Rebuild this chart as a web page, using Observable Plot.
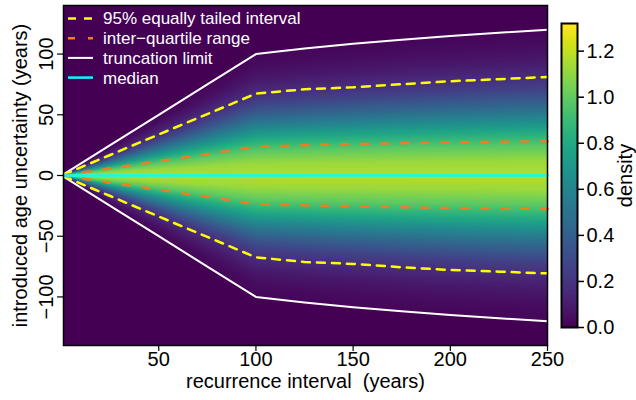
<!DOCTYPE html>
<html>
<head>
<meta charset="utf-8">
<script src="https://cdn.jsdelivr.net/npm/d3@7"></script>
<script src="https://cdn.jsdelivr.net/npm/@observablehq/plot@0.6"></script>
<style>
  html, body { margin: 0; padding: 0; background: #fff; }
  #chart { display: flex; width: 636px; height: 400px; }
  svg { font-family: "Liberation Sans", Arial, Helvetica, sans-serif; overflow: visible; }
  svg text { white-space: pre; }
</style>
</head>
<body>
<div id="chart"></div>
<script>
// Recurrence interval (years) at which the summary curves are given
const recurrence = [1, 25, 50, 75, 100, 125, 150, 175, 200, 225, 250];
// Truncation limit of the introduced age uncertainty (± years)
const truncation = [1, 25, 50, 75, 100, 104.5, 108.5, 111.8, 114.9, 117.6, 120.1];
// 95% equally tailed interval
const upper95 = [0.7, 16.9, 33.8, 50.6, 67.4, 71.0, 72.6, 75.2, 77.6, 79.3, 81.2];
const lower95 = [-0.7, -16.9, -33.8, -50.6, -67.4, -71.2, -72.8, -75.6, -77.8, -79.2, -80.6];
// Inter-quartile range
const upperIQR = [0.2, 5.9, 11.8, 17.6, 23.5, 25.0, 25.8, 26.6, 27.2, 27.8, 28.3];
const lowerIQR = [-0.2, -5.9, -11.8, -17.6, -23.5, -24.6, -25.4, -26.2, -26.8, -27.2, -27.6];
// Median
const median = [0, 0, 0, 0, 0, 0, 0, 0, 0, 0, 0];

// Density profile across the column, as a share of the truncation limit
const profileShare = [0, 0.1, 0.2, 0.3, 0.4, 0.5, 0.6, 0.7, 0.8, 0.9, 1.0];
const profileDensity = [1.17, 1.12, 0.99, 0.80, 0.59, 0.40, 0.25, 0.15, 0.08, 0.04, 0.02];

// Tick labels
const xTicks = [50, 100, 150, 200, 250];
const yTicks = [-100, -50, 0, 50, 100];
const densityTicks = [0, 0.2, 0.4, 0.6, 0.8, 1.0, 1.2];

const rows = recurrence.map((x, i) => ({
  x,
  truncHi: truncation[i], truncLo: -truncation[i],
  hi95: upper95[i], lo95: lower95[i],
  hiIQR: upperIQR[i], loIQR: lowerIQR[i],
  med: median[i]
}));

const limitAt = d3.scaleLinear(recurrence, truncation).clamp(true);
const densityAt = d3.scaleLinear(profileShare, profileDensity).clamp(true);
const densityField = (x, y) => {
  const u = Math.abs(y) / limitAt(x);
  return u > 1 ? 0 : densityAt(u);
};

const colorScale = { type: "linear", scheme: "viridis", domain: [0, 1.32] };
const fmtMinus = (d) => String(d).replace("-", "\u2212");

const YELLOW = "#ffff00", ORANGE = "#f47b20", CYAN = "#00ffff", WHITE = "#ffffff";

const main = Plot.plot({
  width: 560,
  height: 400,
  marginLeft: 63,
  marginRight: 13,
  marginTop: 5,
  marginBottom: 55,
  x: { domain: [1, 250], axis: null },
  y: { domain: [-140, 140], axis: null },
  color: colorScale,
  marks: [
    Plot.raster({ x1: 1, x2: 250, y1: -140, y2: 140, fill: densityField, pixelSize: 1 }),
    Plot.line(rows, { x: "x", y: "truncHi", stroke: WHITE, strokeWidth: 2 }),
    Plot.line(rows, { x: "x", y: "truncLo", stroke: WHITE, strokeWidth: 2 }),
    Plot.line(rows, { x: "x", y: "hi95", stroke: YELLOW, strokeWidth: 2.5, strokeDasharray: "8,7" }),
    Plot.line(rows, { x: "x", y: "lo95", stroke: YELLOW, strokeWidth: 2.5, strokeDasharray: "8,7" }),
    Plot.line(rows, { x: "x", y: "hiIQR", stroke: ORANGE, strokeWidth: 2.5, strokeDasharray: "7,13" }),
    Plot.line(rows, { x: "x", y: "loIQR", stroke: ORANGE, strokeWidth: 2.5, strokeDasharray: "7,13" }),
    Plot.line(rows, { x: "x", y: "med", stroke: CYAN, strokeWidth: 2.5 }),
    Plot.frame({ stroke: "black", strokeWidth: 1.5 }),
    Plot.axisX(xTicks, { tickSize: 6, tickFormat: () => "", strokeWidth: 1.2, label: null }),
    Plot.axisY(yTicks, { tickSize: 6, tickFormat: () => "", strokeWidth: 1.2, label: null }),
    Plot.text(xTicks, { x: (d) => d, frameAnchor: "bottom", dy: 20, text: (d) => String(d), textAnchor: "middle", fontSize: 20, fill: "black" }),
    Plot.text(yTicks, { y: (d) => d, frameAnchor: "left", dx: -17, rotate: -90, text: fmtMinus, textAnchor: "middle", fontSize: 20, fill: "black" }),
    Plot.text(["recurrence interval  (years)"], { frameAnchor: "bottom", dy: 42, text: (d) => d, textAnchor: "middle", fontSize: 20, fill: "black" }),
    Plot.text(["introduced age uncertainty (years)"], { frameAnchor: "left", dx: -43, rotate: -90, text: (d) => d, textAnchor: "middle", fontSize: 20, fill: "black" })
  ]
});

// Legend for the summary curves, drawn inside the top-left of the panel
const legendItems = [
  { label: "95% equally tailed interval", stroke: YELLOW, dash: "8,8", width: 2.5 },
  { label: "inter\u2212quartile range", stroke: ORANGE, dash: "7,13", width: 2.5 },
  { label: "truncation limit", stroke: WHITE, dash: null, width: 2 },
  { label: "median", stroke: CYAN, dash: null, width: 2.5 }
];
const legend = d3.select(main).append("g").attr("class", "legend");
legendItems.forEach((item, i) => {
  const cy = 18.5 + i * 19.7;
  const ln = legend.append("line")
    .attr("x1", 68).attr("x2", 93).attr("y1", cy).attr("y2", cy)
    .attr("stroke", item.stroke).attr("stroke-width", item.width);
  if (item.dash) ln.attr("stroke-dasharray", item.dash);
  legend.append("text")
    .attr("x", 103).attr("y", cy).attr("dy", "0.35em")
    .attr("text-anchor", "start")
    .attr("fill", "white").attr("font-size", 17)
    .text(item.label);
});

const bar = Plot.plot({
  width: 76,
  height: 400,
  marginLeft: 1,
  marginRight: 59,
  marginTop: 23,
  marginBottom: 73,
  x: { domain: [0, 1], axis: null },
  y: { domain: [0, 1.32], axis: null },
  color: colorScale,
  marks: [
    Plot.raster({ x1: 0, x2: 1, y1: 0, y2: 1.32, fill: (x, y) => y, pixelSize: 1 }),
    Plot.frame({ stroke: "black", strokeWidth: 2 }),
    Plot.axisY(densityTicks, { anchor: "right", tickSize: 6, tickPadding: 3, tickFormat: (d) => d.toFixed(1), fontSize: 20, strokeWidth: 1.5, fill: "black", label: null }),
    Plot.text(["density"], { frameAnchor: "right", dx: 48, rotate: -90, text: (d) => d, textAnchor: "middle", fontSize: 20, fill: "black" })
  ]
});

document.getElementById("chart").append(main, bar);
</script>
</body>
</html>
